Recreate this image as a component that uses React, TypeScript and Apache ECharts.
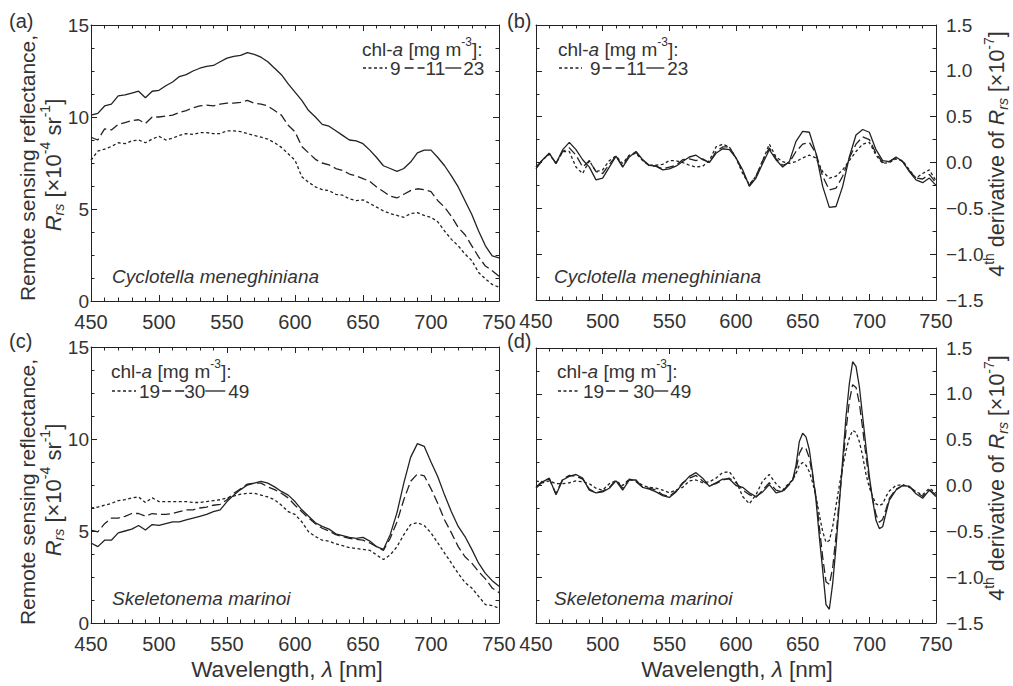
import React, { useEffect, useRef } from 'react';
import * as echarts from 'echarts';

const FONT = "'Liberation Sans', Arial, Helvetica, sans-serif";
const INK = '#222222';
const TXT = '#333333';

// ---------- data ----------
const wl = [450,455,460,465,470,475,480,485,490,495,500,505,510,515,520,525,530,535,540,545,550,555,560,565,570,575,580,585,590,595,600,605,610,615,620,625,630,635,640,645,650,655,660,665,670,675,680,685,690,695,700,705,710,715,720,725,730,735,740,745,750];
const wlD = [450,455,460,465,470,475,480,485,490,495,500,505,510,515,520,525,530,535,540,545,550,555,560,565,570,575,580,585,590,595,600,605,610,615,620,625,630,635,640,
  642.5,645,647.5,650,652.5,655,657.5,660,662.5,665,667.5,670,672.5,675,677.5,680,682.5,685,687.5,690,692.5,695,697.5,700,702.5,705,707.5,710,712.5,715,
  720,725,730,735,740,745,750];

// (a) Cyclotella meneghiniana, Rrs x1e-4
const a9 = [7.65,8.15,8.25,8.4,8.6,8.55,8.7,8.75,8.6,8.8, 8.95,8.75,8.85,9.0,9.1,9.05,9.15,9.15,9.1,9.1, 9.25,9.25,9.2,9.1,9.0,8.9,8.8,8.6,8.35,8.0, 7.65,6.75,6.45,6.2,6.05,6.0,5.8,5.75,5.55,5.45, 5.5,5.3,5.1,4.9,4.75,4.65,4.55,4.75,4.8,4.65, 4.55,4.3,3.8,3.35,3.0,2.55,2.2,1.55,1.2,0.9,0.75];
const a11 = [8.9,8.75,9.35,9.3,9.6,9.7,9.8,9.85,9.65,10.0, 10.0,10.05,10.1,10.25,10.35,10.5,10.6,10.65,10.6,10.7, 10.75,10.75,10.8,10.9,10.75,10.7,10.6,10.35,10.1,9.55, 9.2,8.4,8.05,7.7,7.5,7.4,7.2,7.1,6.9,6.8, 6.65,6.5,6.2,5.95,5.7,5.6,5.8,6.0,6.1,6.05, 5.95,5.45,5.1,4.6,4.0,3.6,3.0,2.4,1.9,1.65,1.35];
const a23 = [10.1,10.2,10.6,10.7,11.15,11.2,11.3,11.4,11.05,11.4, 11.45,11.7,11.9,12.2,12.3,12.5,12.65,12.75,12.8,13.0, 13.2,13.3,13.35,13.5,13.4,13.25,13.0,12.65,12.3,11.8, 11.35,10.9,10.35,10.0,9.6,9.5,9.25,9.0,8.75,8.7, 8.55,8.2,7.8,7.35,7.2,7.05,7.2,7.55,8.05,8.2, 8.2,7.8,7.35,6.8,6.2,5.45,4.7,3.8,3.0,2.45,2.35];

// (b) 4th derivative, Cyclotella, x1e-7
const b9 = [-0.05,0.03,0.09,-0.01,0.12,0.12,-0.05,-0.12,0.02,-0.1, -0.08,0.02,0.07,-0.01,0.08,0.1,0.02,-0.03,-0.03,-0.02, 0.02,0.02,0.0,-0.03,-0.05,-0.04,0.02,0.17,0.2,0.17, 0.05,-0.12,-0.24,-0.15,0.02,0.2,0.06,0.01,-0.01,0.01, 0.05,0.08,0.05,-0.1,-0.17,-0.15,-0.08,0.02,0.12,0.2, 0.22,0.08,-0.01,0.0,0.04,0.02,-0.08,-0.17,-0.12,-0.08,-0.2];
const b11 = [-0.05,0.03,0.1,-0.01,0.12,0.16,0.08,-0.05,0.02,-0.1, -0.12,-0.02,0.07,-0.04,0.08,0.11,0.03,-0.04,-0.04,-0.07, -0.05,-0.03,0.03,0.04,0.02,0.04,0.0,0.12,0.17,0.17, 0.05,-0.1,-0.25,-0.15,0.02,0.16,0.04,-0.03,0.0,0.12, 0.2,0.22,0.1,-0.15,-0.3,-0.28,-0.15,0.05,0.2,0.28, 0.25,0.1,0.0,0.01,0.05,0.01,-0.09,-0.17,-0.18,-0.13,-0.22];
const b23 = [-0.07,0.03,0.1,-0.01,0.14,0.22,0.14,0.03,-0.05,-0.19, -0.17,-0.05,0.07,-0.05,0.06,0.12,0.03,-0.03,-0.04,-0.08, -0.07,-0.04,0.01,0.06,0.08,0.03,0.0,0.1,0.15,0.14, 0.05,-0.08,-0.26,-0.17,-0.01,0.14,0.03,-0.05,0.01,0.23, 0.34,0.33,0.1,-0.26,-0.49,-0.48,-0.26,0.06,0.3,0.36, 0.33,0.14,0.02,0.01,0.06,0.01,-0.1,-0.19,-0.22,-0.17,-0.25];

// (c) Skeletonema marinoi, Rrs x1e-4
const c19 = [6.25,6.3,6.4,6.5,6.65,6.7,6.8,6.85,6.55,6.8, 6.6,6.6,6.6,6.6,6.6,6.55,6.55,6.6,6.65,6.7, 6.8,6.9,7.0,7.05,7.05,6.95,6.85,6.7,6.4,6.05, 5.9,5.5,4.95,4.7,4.5,4.45,4.3,4.2,4.1,4.05, 4.0,3.95,3.7,3.45,3.7,4.15,4.8,5.35,5.45,5.3, 4.9,4.35,3.8,3.25,2.7,2.2,1.9,1.45,1.0,0.95,0.8];
const c30 = [5.05,4.95,5.4,5.7,5.7,5.8,5.95,5.95,5.8,5.95, 5.9,5.9,5.95,6.05,6.15,6.15,6.25,6.3,6.4,6.45, 6.7,7.05,7.3,7.55,7.6,7.6,7.4,7.25,7.05,6.8, 6.4,6.05,5.7,5.4,5.15,5.0,4.8,4.7,4.6,4.55, 4.5,4.35,4.15,3.95,4.6,5.5,6.7,7.7,8.1,8.0, 7.3,6.5,5.6,4.9,4.15,3.6,3.25,2.8,2.4,1.9,1.65];
const c49 = [4.35,4.15,4.5,4.5,4.9,5.0,5.1,5.3,5.05,5.35, 5.3,5.4,5.5,5.5,5.6,5.7,5.8,5.9,6.05,6.15, 6.6,6.95,7.25,7.5,7.6,7.7,7.6,7.4,7.15,6.95, 6.6,6.15,5.8,5.45,5.25,5.1,4.85,4.75,4.65,4.6, 4.65,4.45,4.15,4.0,4.8,6.0,7.6,9.0,9.75,9.6, 8.75,7.95,6.95,6.05,5.25,4.7,4.0,3.25,2.7,2.3,2.0];

// (d) 4th derivative, Skeletonema, x1e-7
const d19 = [0.05,0.03,0.05,0.02,0.02,0.03,0.05,0.04,0.02,-0.03, -0.05,0.02,0.05,0.0,0.07,0.05,0.0,-0.02,-0.03,-0.05, -0.08,-0.05,-0.02,0.05,0.06,0.03,0.04,0.08,0.14,0.15, 0.05,-0.12,-0.2,-0.1,0.05,0.12,0.02,-0.05,0.03,
  0.06,0.13,0.22,0.25,0.22,0.15,0.03,-0.12,-0.32,-0.5, -0.62,-0.6,-0.45,-0.22,0.0,0.2,0.38,0.52,0.6,0.58, 0.48,0.32,0.12,-0.02,-0.12,-0.2,-0.22,-0.2,-0.12,-0.06,
  0.0,0.01,-0.02,-0.07,-0.1,-0.03,-0.08];
const d30 = [-0.02,0.05,0.07,-0.09,0.07,0.11,0.1,0.07,-0.04,-0.08, -0.06,-0.02,0.06,-0.03,0.07,0.04,-0.02,-0.03,-0.05,-0.1, -0.12,-0.06,0.03,0.08,0.11,0.05,0.0,0.02,0.06,0.08, 0.03,-0.05,-0.1,-0.13,-0.05,0.03,-0.05,-0.07,0.01,
  0.06,0.17,0.35,0.42,0.4,0.3,0.1,-0.12,-0.45,-0.78, -1.05,-1.08,-0.9,-0.55,-0.15,0.22,0.6,0.92,1.1,1.07, 0.9,0.62,0.32,0.05,-0.15,-0.32,-0.4,-0.37,-0.26,-0.14,
  -0.04,0.0,-0.01,-0.07,-0.12,-0.05,-0.1];
const d49 = [-0.03,0.04,0.08,-0.1,0.06,0.1,0.12,0.08,-0.05,-0.08, -0.07,-0.03,0.05,-0.05,0.06,0.06,-0.02,-0.04,-0.07,-0.11, -0.13,-0.07,0.02,0.1,0.14,0.08,-0.01,0.03,0.07,0.07, 0.0,-0.02,-0.08,-0.12,-0.07,0.01,-0.08,-0.06,0.02,
  0.06,0.22,0.48,0.57,0.53,0.39,0.13,-0.16,-0.56,-0.92, -1.3,-1.35,-1.07,-0.67,-0.2,0.28,0.75,1.11,1.35,1.3, 1.08,0.75,0.42,0.1,-0.16,-0.38,-0.47,-0.45,-0.3,-0.16,
  -0.05,0.0,-0.01,-0.09,-0.14,-0.05,-0.12];

const chlTop = ['9', '11', '23'];
const chlBottom = ['19', '30', '49'];
const species = ['Cyclotella meneghiniana', 'Skeletonema marinoi'];
const panelTags = ['(a)', '(b)', '(c)', '(d)'];
const xRange = [450, 750, 50];
const rrsRange = [0, 15, 5];
const derRange = [-1.5, 1.5, 0.5];

// ---------- styles ----------
const DOT = [3, 2.5];
const DASH = [9, 4];

let measureCtx: CanvasRenderingContext2D | null = null;
function measure(t: string, size: number, italic?: boolean) {
  if (!measureCtx) measureCtx = document.createElement('canvas').getContext('2d');
  const c = measureCtx as CanvasRenderingContext2D;
  c.font = `${italic ? 'italic ' : ''}${size}px ${FONT}`;
  return c.measureText(t).width;
}

type Run = { t?: string; size?: number; italic?: boolean; dy?: number; gap?: number; line?: number[] | 'solid'; w?: number };

function layoutRuns(runs: Run[], base: number) {
  let x = 0;
  const els: any[] = [];
  for (const r of runs) {
    if (r.gap !== undefined) { x += r.gap; continue; }
    if (r.line) {
      const w = r.w || 20;
      els.push({ type: 'line', silent: true, shape: { x1: x, y1: 0, x2: x + w, y2: 0 },
        style: { stroke: INK, lineWidth: 1.3, lineDash: r.line === 'solid' ? null : r.line } });
      x += w; continue;
    }
    const size = r.size ?? base;
    els.push({ type: 'text', silent: true, x, y: r.dy ?? 0,
      style: { text: r.t, fontSize: size, fontFamily: FONT, fontStyle: r.italic ? 'italic' : 'normal', fill: TXT, align: 'left', verticalAlign: 'middle' } });
    x += measure(r.t as string, size, r.italic);
  }
  return { els, width: x };
}

function textBlock(runs: Run[], base: number, x: number, y: number, opts: { center?: boolean; rotate?: boolean } = {}) {
  const { els, width } = layoutRuns(runs, base);
  return {
    type: 'group', x, y, rotation: opts.rotate ? Math.PI / 2 : 0, silent: true,
    children: [{ type: 'group', x: opts.center ? -width / 2 : 0, y: 0, children: els }],
  };
}

function axisBase(range: number[], minorSplit: number) {
  return {
    type: 'value', min: range[0], max: range[1], interval: range[2],
    axisLine: { show: true, onZero: false, lineStyle: { color: INK, width: 1 } },
    axisTick: { show: true, inside: true, length: 6, lineStyle: { color: INK, width: 1 } },
    minorTick: { show: true, splitNumber: minorSplit, length: 3.5, lineStyle: { color: INK, width: 1 } },
    splitLine: { show: false },
    minorSplitLine: { show: false },
  };
}

const xLabelStyle = { fontSize: 20, fontFamily: FONT, color: TXT };
const yLabelStyle = { fontSize: 19, fontFamily: FONT, color: TXT };
const fmtDer = (v: number) => (v < 0 ? '\u2212' : '') + Math.abs(v).toFixed(1);

export default function App() {
  const ref = useRef<HTMLDivElement>(null);
  useEffect(() => {
    if (!ref.current) return;
    const chart = echarts.init(ref.current, undefined, { renderer: 'svg' });

    const grids = [
      { left: 91, top: 25, width: 408, height: 276 },
      { left: 536, top: 25, width: 400, height: 275 },
      { left: 91, top: 347, width: 408, height: 276 },
      { left: 536, top: 348, width: 400, height: 275 },
    ];
    const isDer = [false, true, false, true];

    const xAxis: any[] = [];
    const yAxis: any[] = [];
    grids.forEach((_, g) => {
      xAxis.push({ ...axisBase(xRange, 5), gridIndex: g, position: 'bottom', axisLabel: { show: true, margin: 11, ...xLabelStyle } });
      xAxis.push({ ...axisBase(xRange, 5), gridIndex: g, position: 'top', axisLabel: { show: false } });
      const yr = isDer[g] ? derRange : rrsRange;
      const ms = isDer[g] ? 2 : 4;
      yAxis.push({ ...axisBase(yr, ms), gridIndex: g, position: 'left', axisLabel: { show: !isDer[g], margin: 2, ...yLabelStyle } });
      yAxis.push({ ...axisBase(yr, ms), gridIndex: g, position: 'right', axisLabel: { show: isDer[g], margin: 10, formatter: fmtDer, ...yLabelStyle } });
    });

    const panelSeries: [number[], number[][]][] = [
      [wl, [a9, a11, a23]],
      [wl, [b9, b11, b23]],
      [wl, [c19, c30, c49]],
      [wlD, [d19, d30, d49]],
    ];
    const dashes: any[] = [DOT, DASH, 'solid'];
    const series: any[] = [];
    panelSeries.forEach(([xs, sets], g) => {
      sets.forEach((vals, k) => {
        series.push({
          type: 'line', xAxisIndex: 2 * g, yAxisIndex: 2 * g, symbol: 'none', silent: true,
          data: xs.map((x, i) => [x, vals[i]]),
          lineStyle: { color: INK, width: 1.3, type: dashes[k] },
        });
      });
    });

    const legend = (x: number, y1: number, y2: number, row2: Run[]) => [
      textBlock([{ t: 'chl-' }, { t: 'a', italic: true }, { t: ' [mg m' }, { t: '-3', size: 12, dy: -7 }, { t: ']:' }], 19, x, y1),
      textBlock(row2, 19, x + 1, y2),
    ];

    const g: any[] = [];
    // panel tags
    g.push(textBlock([{ t: panelTags[0] }], 20, 9, 21));
    g.push(textBlock([{ t: panelTags[1] }], 20, 507, 21));
    g.push(textBlock([{ t: panelTags[2] }], 20, 9, 341));
    g.push(textBlock([{ t: panelTags[3] }], 20, 507, 341));
    // species
    g.push(textBlock([{ t: species[0], italic: true }], 19, 112, 276));
    g.push(textBlock([{ t: species[0], italic: true }], 19, 554, 276));
    g.push(textBlock([{ t: species[1], italic: true }], 19, 112, 598));
    g.push(textBlock([{ t: species[1], italic: true }], 19, 554, 598));
    // legends
    g.push(...legend(362, 49, 68, [
      { line: DOT, w: 24 }, { gap: 3 }, { t: chlTop[0] }, { gap: 4 }, { line: DASH, w: 20 }, { gap: 1 }, { t: chlTop[1] },
      { line: 'solid', w: 16 }, { gap: 2 }, { t: chlTop[2] }]));
    g.push(...legend(558, 49, 68, [
      { line: DOT, w: 23 }, { gap: 8 }, { t: chlTop[0] }, { gap: 2 }, { line: DASH, w: 24 }, { t: chlTop[1] },
      { line: 'solid', w: 18 }, { gap: 3 }, { t: chlTop[2] }]));
    g.push(...legend(111, 371, 391, [
      { line: DOT, w: 24 }, { gap: 3 }, { t: chlBottom[0] }, { gap: 2 }, { line: DASH, w: 22 }, { t: chlBottom[1] },
      { line: 'solid', w: 20 }, { gap: 3 }, { t: chlBottom[2] }]));
    g.push(...legend(557, 371, 391, [
      { line: DOT, w: 22 }, { gap: 3 }, { t: chlBottom[0] }, { gap: 2 }, { line: DASH, w: 26 }, { gap: 1 }, { t: chlBottom[1] },
      { line: 'solid', w: 14 }, { gap: 2 }, { t: chlBottom[2] }]));
    // left y titles
    const rrsL1: Run[] = [{ t: 'Remote sensing reflectance,' }];
    const rrsL2: Run[] = [{ t: 'R', italic: true }, { t: 'rs', italic: true, size: 14, dy: 6 }, { t: ' [\u00d710' }, { t: '-4', size: 14, dy: -8 },
      { t: ' sr' }, { t: '-1', size: 14, dy: -8 }, { t: ']' }];
    g.push(textBlock(rrsL1, 21, 27, 168, { center: true, rotate: true }));
    g.push(textBlock(rrsL2, 22, 53, 165, { center: true, rotate: true }));
    g.push(textBlock(rrsL1, 21, 27, 492, { center: true, rotate: true }));
    g.push(textBlock(rrsL2, 22, 53, 490, { center: true, rotate: true }));
    // right y titles
    const derT: Run[] = [{ t: '4' }, { t: 'th', size: 14, dy: -8 }, { t: ' derivative of ' }, { t: 'R', italic: true },
      { t: 'rs', italic: true, size: 14, dy: 6 }, { t: ' [\u00d710' }, { t: '-7', size: 14, dy: -8 }, { t: ']' }];
    g.push(textBlock(derT, 21.5, 997, 154, { center: true, rotate: true }));
    g.push(textBlock(derT, 21.5, 997, 478, { center: true, rotate: true }));
    // x titles
    const wlT: Run[] = [{ t: 'Wavelength, ' }, { t: '\u03bb', italic: true }, { t: ' [nm]' }];
    g.push(textBlock(wlT, 22.5, 287, 669, { center: true }));
    g.push(textBlock(wlT, 22.5, 737, 669, { center: true }));

    chart.setOption({
      animation: false,
      backgroundColor: '#ffffff',
      grid: grids.map((gr) => ({ ...gr, containLabel: false, show: false })),
      xAxis, yAxis, series,
      graphic: g,
    });
    return () => chart.dispose();
  }, []);
  return <div ref={ref} style={{ position: 'fixed', left: 0, top: 0, width: 1013, height: 686 }} />;
}
